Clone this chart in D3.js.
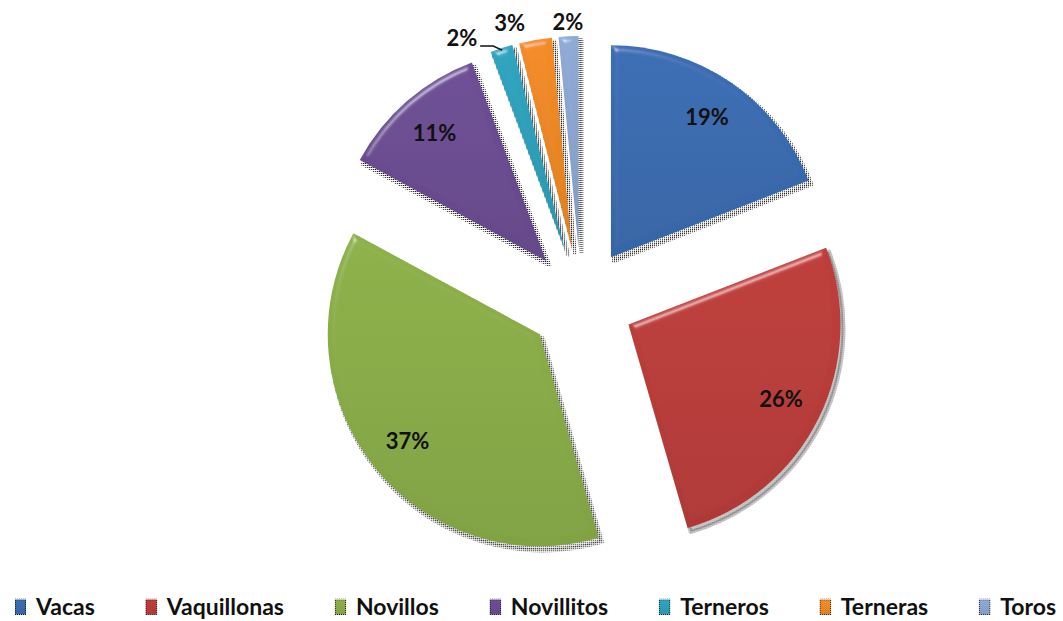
<!DOCTYPE html>
<html>
<head>
<meta charset="utf-8">
<script src="https://cdn.jsdelivr.net/npm/d3@7"></script>
<style>
  html, body { margin: 0; padding: 0; background: #fff; }
  svg { display: block; }
  text { font-family: Lato, "Open Sans", sans-serif; font-weight: 700; }
</style>
</head>
<body>
<svg id="chart" width="1063" height="621"></svg>
<script>
// ---- data ----
const categories = ["Vacas", "Vaquillonas", "Novillos", "Novillitos", "Terneros", "Terneras", "Toros"];
const values = [19.1, 26.4, 37.4, 11.4, 1.7, 2.5, 1.5];
const colors = ["#3a6cb1", "#bc3d3a", "#8bae48", "#6c4d93", "#2ea2bc", "#f08a25", "#8ca7d2"];

// ---- layout ----
const cx = 581, cy = 301, R = 212, explode = 53;
const innerLabelR = 170;
const outerLabelR = [0, 0, 0, 0, 236, 234, 226];
const outerLabelShiftDeg = [0, 0, 0, 0, -8.5, -5.5, 0];

const svg = d3.select("#chart");
const defs = svg.append("defs");

// dithered shadow pattern
const pat = defs.append("pattern").attr("id", "dots").attr("width", 2).attr("height", 2)
  .attr("patternUnits", "userSpaceOnUse");
pat.append("rect").attr("width", 1).attr("height", 1).attr("fill", "#111");

// bevel filter (edge highlights only)
const f = defs.append("filter").attr("id", "bevel").attr("x", "-10%").attr("y", "-10%").attr("width", "120%").attr("height", "120%");
f.append("feGaussianBlur").attr("in", "SourceAlpha").attr("stdDeviation", 3).attr("result", "blur");
const spec = f.append("feSpecularLighting").attr("in", "blur").attr("surfaceScale", 4)
  .attr("specularConstant", 0.6).attr("specularExponent", 45).attr("lighting-color", "#ffffff").attr("result", "spec");
spec.append("feDistantLight").attr("azimuth", 240).attr("elevation", 40);
f.append("feComposite").attr("in", "spec").attr("in2", "SourceAlpha").attr("operator", "in").attr("result", "specIn");
f.append("feComposite").attr("in", "SourceGraphic").attr("in2", "specIn").attr("operator", "arithmetic")
  .attr("k1", 0).attr("k2", 1).attr("k3", 0.6).attr("k4", 0);

// gradients per colour
colors.forEach((c, i) => {
  const g = defs.append("linearGradient").attr("id", "grad" + i)
    .attr("x1", 0).attr("y1", 0).attr("x2", 0).attr("y2", 1);
  g.append("stop").attr("offset", "0%").attr("stop-color", d3.color(c).brighter(0.05));
  g.append("stop").attr("offset", "100%").attr("stop-color", d3.color(c).darker(0.2));
});

const pie = d3.pie().sort(null).value(d => d);
const arcs = pie(values);
const arc = d3.arc().innerRadius(0).outerRadius(R);
const labelArc = d3.arc().innerRadius(innerLabelR).outerRadius(innerLabelR);

function offset(a, dist) {
  const m = (a.startAngle + a.endAngle) / 2;
  return [dist * Math.sin(m), -dist * Math.cos(m)];
}

const g = svg.append("g").attr("transform", `translate(${cx},${cy})`);

const slices = g.selectAll("g.slice").data(arcs).enter().append("g")
  .attr("class", "slice")
  .attr("transform", d => { const o = offset(d, explode); return `translate(${o[0]},${o[1]})`; });

// shadow
slices.append("path")
  .attr("d", arc)
  .attr("transform", "translate(3,4)")
  .attr("fill", "url(#dots)")
  .attr("stroke", "url(#dots)")
  .attr("stroke-width", 4)
  .attr("stroke-linejoin", "round");

// slice
slices.append("path")
  .attr("d", arc)
  .attr("fill", (d, i) => `url(#grad${i})`)
  .attr("filter", "url(#bevel)");

const fmt = v => Math.round(v) + "%";

// labels
slices.each(function(d, i) {
  const sel = d3.select(this);
  if (d.data >= 5) {
    const p = labelArc.centroid(d);
    sel.append("text")
      .attr("x", p[0]).attr("y", p[1])
      .attr("text-anchor", "middle").attr("dy", "0.35em")
      .attr("font-size", 22).attr("fill", "#111")
      .text(fmt(d.data));
  } else {
    const m = (d.startAngle + d.endAngle) / 2 + outerLabelShiftDeg[i] * Math.PI / 180;
    const lx = outerLabelR[i] * Math.sin(m), ly = -outerLabelR[i] * Math.cos(m);
    const t = sel.append("text")
      .attr("x", lx).attr("y", ly)
      .attr("text-anchor", "middle").attr("dy", "0.35em")
      .attr("font-size", 22).attr("fill", "#111")
      .text(fmt(d.data));
    if (Math.abs(outerLabelShiftDeg[i]) > 6) {
      const bb = t.node().getBBox();
      const mid = (d.startAngle + d.endAngle) / 2;
      const ex = (R - 2) * Math.sin(mid), ey = -(R - 2) * Math.cos(mid);
      const y0 = bb.y + bb.height - 5;
      sel.append("path")
        .attr("d", `M${bb.x + bb.width + 3},${y0}H${bb.x + bb.width + 16}L${ex},${ey}`)
        .attr("fill", "none").attr("stroke", "#111").attr("stroke-width", 1.5);
    }
  }
});

// legend
const legend = svg.append("g").attr("class", "legend");
const legY = 607, markerW = 11, markerH = 15, markerGap = 10;
const items = legend.selectAll("g").data(categories).enter().append("g");
items.append("rect")
  .attr("width", markerW).attr("height", markerH)
  .attr("y", legY - markerH / 2)
  .attr("fill", (d, i) => `url(#grad${i})`)
  .attr("stroke", "url(#dots)").attr("stroke-width", 1.5);
items.append("text")
  .attr("x", markerW + markerGap).attr("y", legY).attr("dy", "0.35em")
  .attr("font-size", 23).attr("fill", "#111")
  .text(d => d);
const widths = [];
items.each(function() { widths.push(markerW + markerGap + d3.select(this).select("text").node().getComputedTextLength()); });
const left = 15, right = 1056;
const gap = (right - left - d3.sum(widths)) / (categories.length - 1);
let xpos = left;
items.each(function(d, i) { d3.select(this).attr("transform", `translate(${xpos},0)`); xpos += widths[i] + gap; });
</script>
</body>
</html>
